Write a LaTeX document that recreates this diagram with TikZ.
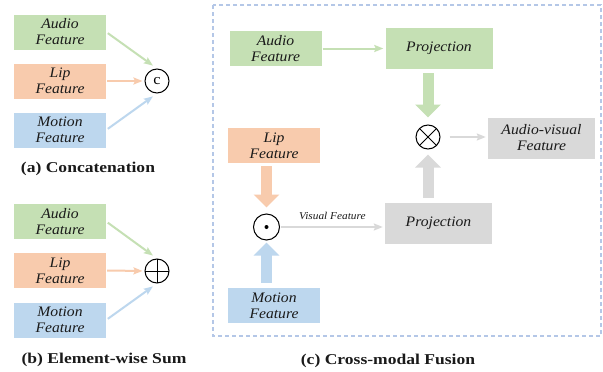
\documentclass[tikz,border=0pt]{standalone}
\usepackage{fontspec}
\setmainfont{Liberation Serif}[FakeStretch=1.08]
\newfontfamily\labfont{Liberation Serif}[FakeStretch=1.17]
\usetikzlibrary{arrows.meta,calc}
\definecolor{cgreen}{HTML}{C5E0B4}
\definecolor{corange}{HTML}{F8CBAD}
\definecolor{cblue}{HTML}{BDD7EE}
\definecolor{cgray}{HTML}{D9D9D9}
\definecolor{cdash}{HTML}{B4C7E7}
\definecolor{ctext}{HTML}{1A1A1A}
\begin{document}
\begin{tikzpicture}[x=1pt,y=-1pt,
 box/.style={minimum width=92pt, minimum height=35pt, inner sep=0pt, align=center, text=ctext, font=\fontsize{14.5}{16}\selectfont\itshape},
 bigbox/.style={box, minimum width=107pt, minimum height=41pt},
 op/.style={circle, draw=black, line width=1pt, minimum size=24pt, inner sep=0pt},
 thinarrow/.style={line width=2pt, -{Stealth[length=9pt,width=7pt,inset=1.5pt]}},
 fatarrow/.style={line width=11pt, -{Triangle[length=13pt,width=25pt]}},
 sublabel/.style={text=ctext, font=\labfont\bfseries\fontsize{15}{18}\selectfont}
]
\useasboundingbox (0,0) rectangle (603,372);
\fill[white] (0,0) rectangle (603,372);

% (a)
\node[box, fill=cgreen] (aa) at (60,32) {Audio\\Feature};
\node[box, fill=corange] (al) at (60,81) {Lip\\Feature};
\node[box, fill=cblue] (am) at (60,130) {Motion\\Feature};
\node[op, font=\fontsize{15}{15}\selectfont] (ac) at (157,81) {c};
\draw[thinarrow, cgreen, shorten <=2pt, shorten >=5pt] (aa.east) -- (ac.north);
\draw[thinarrow, corange, shorten <=1pt, shorten >=2pt] (al.east) -- (ac.west);
\draw[thinarrow, cblue, shorten <=2pt, shorten >=5pt] (am.east) -- (ac.south);
\node[sublabel] (la) at (88,169) {(a) Concatenation};

% (b)
\node[box, fill=cgreen] (ba) at (60,221.5) {Audio\\Feature};
\node[box, fill=corange] (bl) at (60,270.5) {Lip\\Feature};
\node[box, fill=cblue] (bm) at (60,320) {Motion\\Feature};
\node[op, path picture={\draw[line width=1pt] (path picture bounding box.north) -- (path picture bounding box.south) (path picture bounding box.west) -- (path picture bounding box.east);}] (bc) at (157,271) {};
\draw[thinarrow, cgreen, shorten <=2pt, shorten >=5pt] (ba.east) -- (bc.north);
\draw[thinarrow, corange, shorten <=1pt, shorten >=2pt] (bl.east) -- (bc.west);
\draw[thinarrow, cblue, shorten <=2pt, shorten >=5pt] (bm.east) -- (bc.south);
\node[sublabel] (lb) at (104,360) {(b) Element-wise Sum};

% (c)
\draw[cdash, line width=1.2pt, dash pattern=on 4pt off 3pt] (213,5) rectangle (601,336);
\node[box, fill=cgreen] (ca) at (275.5,48.5) {Audio\\Feature};
\node[bigbox, fill=cgreen] (p1) at (439,48.5) {Projection};
\node[op, path picture={\draw[line width=1pt] (path picture bounding box.north west) -- (path picture bounding box.south east) (path picture bounding box.south west) -- (path picture bounding box.north east);}] (ot) at (428,137) {};
\node[bigbox, fill=cgray] (av) at (541.5,138) {Audio-visual\\Feature};
\node[box, fill=corange] (cl) at (274,145.5) {Lip\\Feature};
\node[op, minimum size=26pt, path picture={\fill (path picture bounding box.center) circle (2pt);}] (od) at (266.5,227) {};
\node[box, fill=cblue] (cm) at (274,305.5) {Motion\\Feature};
\node[bigbox, fill=cgray] (p2) at (438.5,223.5) {Projection};

\draw[thinarrow, cgreen, shorten <=1pt, shorten >=2pt] (ca.east) -- (ca.east -| p1.west);
\draw[fatarrow, cgreen] ($(p1.south -| ot)+(0,4)$) -- ($(ot.north)+(0,-7)$);
\draw[fatarrow, cgray] ($(p2.north -| ot)+(0,-5)$) -- ($(ot.south)+(0,5)$);
\draw[thinarrow, cgray, shorten <=9pt, shorten >=2pt] (ot.east) -- (ot.east -| av.west);
\draw[fatarrow, corange] ($(cl.south -| od)+(0,3)$) -- ($(od.north)+(0,-6)$);
\draw[fatarrow, cblue] ($(cm.north -| od)+(0,-5)$) -- ($(od.south)+(0,2)$);
\draw[thinarrow, cgray, shorten <=1pt, shorten >=2pt] (od.east) -- (od.east -| p2.west)
  node[midway, above=3pt, text=ctext, font=\fontsize{10.5}{12}\selectfont\itshape] (vf) {Visual Feature};
\node[sublabel] (lc) at (388,360.5) {(c) Cross-modal Fusion};
\end{tikzpicture}
\end{document}
